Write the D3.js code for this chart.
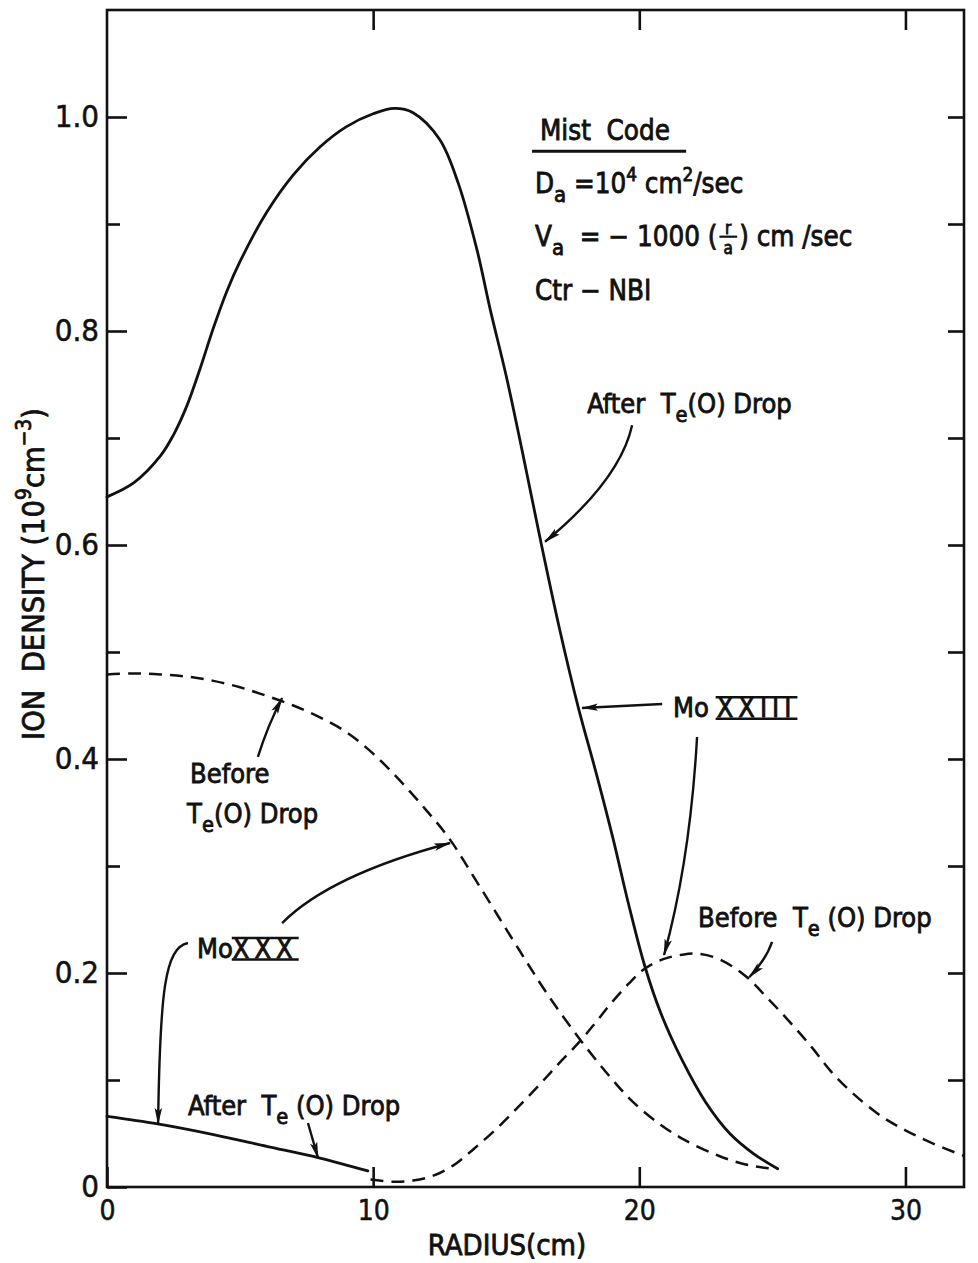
<!DOCTYPE html>
<html><head><meta charset="utf-8">
<script src="https://cdn.jsdelivr.net/npm/d3@7"></script>
<style>
html,body{margin:0;padding:0;background:#fff;}
svg{display:block;}
text{font-family:"DejaVu Sans Condensed","DejaVu Sans","Liberation Sans Narrow",sans-serif;fill:#111;white-space:pre;}
text.ann{stroke:#111;stroke-width:0.8;}
</style></head><body>
<svg id="c" width="978" height="1263"></svg>
<script>
// ---- data (radius in cm, ion density in 1e9 cm^-3) ----
const radiusAfterXXIII  = [0,1,2,2.5,3,3.5,4,4.5,5,6,7,8,9,10,10.8,11.5,12.5,13.2,13.9,14.4,15,15.6,16.3,17,17.7,18.4,19,19.6,20.2,20.8,21.6,22.5,23.4,24.3,25.2];
const densityAfterXXIII = [0.645,0.658,0.683,0.703,0.730,0.765,0.803,0.837,0.865,0.911,0.946,0.972,0.991,1.003,1.008,1.004,0.979,0.938,0.876,0.82,0.758,0.688,0.603,0.522,0.449,0.385,0.327,0.264,0.207,0.163,0.119,0.079,0.05,0.031,0.017];

const radiusBeforeXXX  = [0,1,2,3,4,5,6,7,8,9,10,11,12,12.85,14,15.5,16.5,17.8,19,19.7,20.7,21.7,23,24,24.7,25.2];
const densityBeforeXXX = [0.479,0.480,0.479,0.477,0.473,0.467,0.459,0.450,0.439,0.425,0.405,0.38,0.352,0.326,0.281,0.221,0.182,0.137,0.100,0.081,0.060,0.044,0.029,0.021,0.018,0.017];

const radiusBeforeXXIII  = [9.9,10.7,11.5,12.2,13,13.8,14.7,15.5,16.3,17,17.8,18.4,18.95,19.6,20.2,20.9,21.6,22.2,23,24,24.8,25.7,26.5,27.2,28,29.1,30,31,32.2];
const densityBeforeXXIII = [0.007,0.005,0.006,0.010,0.020,0.036,0.056,0.076,0.097,0.116,0.137,0.155,0.172,0.19,0.204,0.213,0.217,0.218,0.213,0.197,0.177,0.153,0.13,0.108,0.088,0.066,0.053,0.041,0.029];

const radiusAfterXXX  = [0,1.9,4,6,8,9.8];
const densityAfterXXX = [0.066,0.059,0.049,0.038,0.027,0.015];

const yMajorTicks  = [0,0.2,0.4,0.6,0.8,1.0];
const yMajorLabels = ["0","0.2","0.4","0.6","0.8","1.0"];
const yMinorTicks  = [0.1,0.3,0.5,0.7,0.9];
const yRightTicks  = [0.1,0.2,0.3,0.4,0.5,0.6,0.7,0.8,0.9,1.0];
const xTicks       = [0,10,20,30];
const xTickLabels  = ["0","10","20","30"];
const xTopTicks    = [10,20,30];

// ---- scales ----
const INK = "#111";
const svg = d3.select("#c");
const x = d3.scaleLinear().domain([0, 32.2]).range([107, 964]);
const y = d3.scaleLinear().domain([0, 1.1]).range([1187, 10]);

const defs = svg.append("defs");
defs.append("marker").attr("id","ah").attr("viewBox","0 0 17 8")
  .attr("refX",16).attr("refY",4).attr("markerWidth",17).attr("markerHeight",8)
  .attr("markerUnits","userSpaceOnUse").attr("orient","auto")
  .append("path").attr("d","M0,0.3 L17,4 L0,7.7 L3.5,4 Z").attr("fill",INK);

// ---- frame ----
svg.append("rect").attr("x",x(0)).attr("y",y(1.1))
  .attr("width",x(32.2)-x(0)).attr("height",y(0)-y(1.1))
  .attr("fill","none").attr("stroke",INK).attr("stroke-width",2.6);

function styleAxis(g, fs){
  g.select(".domain").remove();
  g.selectAll(".tick line").attr("stroke",INK).attr("stroke-width",2.6);
  g.selectAll(".tick text").attr("fill",INK).attr("font-size",fs)
    .attr("font-family",'"DejaVu Sans Condensed","DejaVu Sans",sans-serif')
    .attr("stroke",INK).attr("stroke-width",0.5);
}
svg.append("g").attr("transform",`translate(${x(0)},0)`)
  .call(d3.axisLeft(y).tickValues(yMajorTicks).tickSize(-20).tickPadding(8)
    .tickFormat((d,i)=>yMajorLabels[i]))
  .call(g=>styleAxis(g,31));
svg.append("g").attr("transform",`translate(${x(0)},0)`)
  .call(d3.axisLeft(y).tickValues(yMinorTicks).tickSize(-13).tickFormat(""))
  .call(g=>styleAxis(g,10));
svg.append("g").attr("transform",`translate(${x(32.2)},0)`)
  .call(d3.axisRight(y).tickValues(yRightTicks).tickSize(-16).tickFormat(""))
  .call(g=>styleAxis(g,10));
svg.append("g").attr("transform",`translate(0,${y(0)})`)
  .call(d3.axisBottom(x).tickValues(xTicks).tickSize(-20).tickPadding(13)
    .tickFormat((d,i)=>xTickLabels[i]))
  .call(g=>styleAxis(g,28));
svg.append("g").attr("transform",`translate(0,${y(1.1)})`)
  .call(d3.axisTop(x).tickValues(xTopTicks).tickSize(-20).tickFormat(""))
  .call(g=>styleAxis(g,10));

// ---- curves ----
function series(rs, vs){ return rs.map((r,i)=>[r, vs[i]]); }
const line = d3.line().x(d=>x(d[0])).y(d=>y(d[1])).curve(d3.curveCatmullRom.alpha(0.5));
const plot = svg.append("g").attr("fill","none").attr("stroke",INK).attr("stroke-linecap","round");
plot.append("path").attr("d",line(series(radiusAfterXXIII,densityAfterXXIII))).attr("stroke-width",2.8);
plot.append("path").attr("d",line(series(radiusAfterXXX,densityAfterXXX))).attr("stroke-width",2.8);
plot.append("path").attr("d",line(series(radiusBeforeXXX,densityBeforeXXX)))
  .attr("stroke-width",2.5).attr("stroke-dasharray","13 8").attr("stroke-linecap","butt");
plot.append("path").attr("d",line(series(radiusBeforeXXIII,densityBeforeXXIII)))
  .attr("stroke-width",2.5).attr("stroke-dasharray","13 8").attr("stroke-linecap","butt");

// ---- rich text helper ----
function rich(parent, segs, size){
  let cx = 0;
  for(const s of segs){
    if(s.frac){
      const fs = size*0.62;
      const t1 = parent.append("text").attr("class","ann").attr("font-size",fs).text(s.frac[0]);
      const t2 = parent.append("text").attr("class","ann").attr("font-size",fs).text(s.frac[1]);
      const w = Math.max(t1.node().getComputedTextLength(), t2.node().getComputedTextLength()) + size*0.45;
      t1.attr("x",cx+w/2).attr("y",-size*0.42).attr("text-anchor","middle");
      t2.attr("x",cx+w/2).attr("y",size*0.28).attr("text-anchor","middle");
      parent.append("line").attr("x1",cx+2).attr("x2",cx+w-2)
        .attr("y1",-size*0.34).attr("y2",-size*0.34).attr("stroke",INK).attr("stroke-width",2.2);
      cx += w; continue;
    }
    const fs = s.sub ? size*0.8 : s.sup ? size*0.68 : size;
    const dy = s.sub ? size*0.32 : s.sup ? -size*0.42 : 0;
    const t = parent.append("text").attr("class","ann").attr("x",cx).attr("y",dy).attr("font-size",fs).text(s.t);
    if(s.ls) t.attr("letter-spacing",s.ls);
    const w = t.node().getComputedTextLength();
    if(s.bars){
      const top = -fs*0.74, bot = 1.5;
      [top,bot].forEach(yy=>parent.append("line").attr("x1",cx-1).attr("x2",cx+w+1)
        .attr("y1",yy).attr("y2",yy).attr("stroke",INK).attr("stroke-width",2.6));
    }
    cx += w;
  }
  return cx;
}
function label(at, segs, size){
  const g = svg.append("g").attr("transform",`translate(${x(at[0])},${y(at[1])})`);
  return rich(g, segs, size);
}
const TE = [{t:"T"},{t:"e",sub:1}];

// info block
label([16.27,0.9785],[{t:"Mist  Code"}],27.5);
svg.append("line").attr("x1",x(15.97)).attr("x2",x(21.76)).attr("y1",y(0.968)).attr("y2",y(0.968))
  .attr("stroke",INK).attr("stroke-width",2.8);
label([16.08,0.929],[{t:"D"},{t:"a",sub:1},{t:" =10"},{t:"4",sup:1},{t:" cm"},{t:"2",sup:1},{t:"/sec"}],27.5);
label([16.08,0.8794],[{t:"V"},{t:"a",sub:1},{t:"  = − 1000 ("},{frac:["r","a"]},{t:") cm /sec"}],27.5);
label([16.08,0.829],[{t:"Ctr − NBI"}],27.5);

// annotations
label([18.04,0.7234],[{t:"After  "},...TE,{t:"(O) Drop"}],27);
label([21.27,0.439],[{t:"Mo "},{t:"XXIII",bars:1,ls:5}],27);
label([22.21,0.243],[{t:"Before  "},...TE,{t:" (O) Drop"}],27);
label([3.12,0.3776],[{t:"Before"}],27);
label([3.01,0.3402],[...TE,{t:"(O) Drop"}],27);
label([3.38,0.214],[{t:"Mo"},{t:"XXX",bars:1,ls:5}],27);
label([3.04,0.0673],[{t:"After  "},...TE,{t:" (O) Drop"}],27);

// arrows
const arrows = [
  {from:[19.73,0.712], q:[19.28,0.661], to:[16.46,0.603]},
  {from:[20.86,0.4514], to:[17.85,0.4477]},
  {from:[22.17,0.4206], q:[21.91,0.3056], to:[20.93,0.2168]},
  {from:[24.99,0.229], q:[24.75,0.212], to:[24.13,0.196]},
  {from:[5.67,0.4019], q:[6.05,0.432], to:[6.58,0.457]},
  {from:[6.58,0.2467], q:[8.38,0.2916], to:[12.89,0.3215]},
  {from:[3.04,0.228], c1:[2.18,0.2234], c2:[1.99,0.1841], to:[1.92,0.0589]},
  {from:[7.55,0.0598], to:[7.93,0.0271]}
];
arrows.forEach(a=>{
  const p = d3.path();
  p.moveTo(x(a.from[0]), y(a.from[1]));
  if(a.q) p.quadraticCurveTo(x(a.q[0]),y(a.q[1]),x(a.to[0]),y(a.to[1]));
  else if(a.c1) p.bezierCurveTo(x(a.c1[0]),y(a.c1[1]),x(a.c2[0]),y(a.c2[1]),x(a.to[0]),y(a.to[1]));
  else p.lineTo(x(a.to[0]),y(a.to[1]));
  svg.append("path").attr("d",p.toString()).attr("fill","none").attr("stroke",INK)
    .attr("stroke-width",2.4).attr("marker-end","url(#ah)");
});

// axis titles
const xt = svg.append("g");
const xw = rich(xt,[{t:"RADIUS(cm)"}],29);
xt.attr("transform",`translate(${507-xw/2},1255)`);

const yt = svg.append("g");
const yw = rich(yt,[{t:"ION  DENSITY (10"},{t:"9",sup:1},{t:"cm"},{t:"−3",sup:1},{t:")"}],30.5);
yt.attr("transform",`translate(44,${574+yw/2}) rotate(-90)`);
</script>
</body></html>
